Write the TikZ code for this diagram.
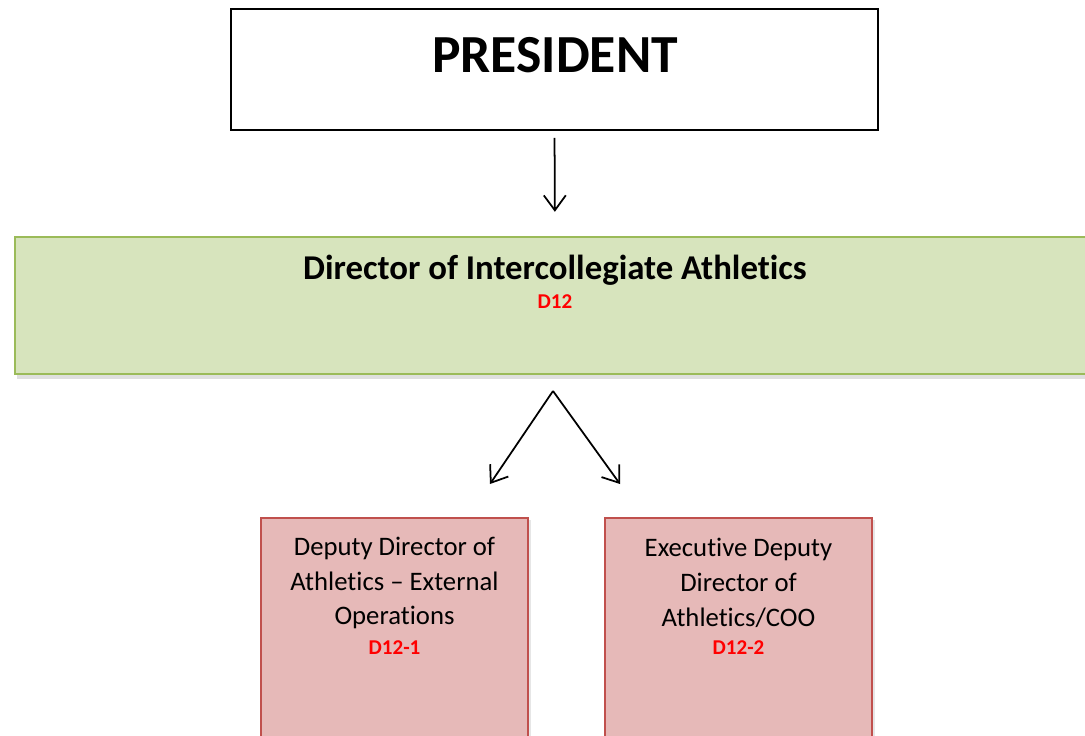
\documentclass[tikz,border=0pt]{standalone}
\usepackage{fontspec}
\setmainfont[Ligatures={NoCommon}]{Carlito}
\usetikzlibrary{arrows.meta,positioning,shadows}

\definecolor{dirfill}{HTML}{D7E4BD}
\definecolor{dirline}{HTML}{9BBB59}
\definecolor{depfill}{HTML}{E6B9B8}
\definecolor{depline}{HTML}{C0504D}

\begin{document}
\begin{tikzpicture}[x=0.02cm,y=-0.02cm,
    link/.style={line width=1pt,-{Straight Barb[length=8.5pt,width=12.5pt]}},
    presbox/.style={draw,line width=1.1pt,fill=white,minimum width=12.94cm,minimum height=2.42cm},
    dirbox/.style={draw=dirline,line width=1.5pt,fill=dirfill,minimum width=21.6cm,minimum height=2.74cm,
        drop shadow={shadow xshift=1pt,shadow yshift=-3pt,opacity=0.25}},
    depbox/.style={draw=depline,line width=1.1pt,fill=depfill,minimum width=5.34cm,minimum height=4.84cm,
        drop shadow={shadow xshift=2pt,shadow yshift=-1pt,opacity=0.2}},
    code/.style={text=red,font=\fontsize{12}{14}\selectfont\bfseries},
    deptext/.style={align=center,font=\fontsize{15.2}{19.8}\selectfont}]
            \path[use as bounding box] (0,0) rectangle (1085,736);
            \clip (0,0) rectangle (1085,736);
            \coordinate (p0) at (554.5,69.5);
            \coordinate (p1) at (555,305.5);
            \coordinate (p2) at (394.5,639);
            \coordinate (p3) at (738.5,639);

            \node[presbox] (pres) at (p0) {};
            \node[dirbox] (dir) at (p1) {};
            \node[depbox] (dep1) at (p2) {};
            \node[depbox] (dep2) at (p3) {};

            \node[font=\fontsize{30.5}{36}\selectfont\bfseries] (prestext) at (555,55) {PRESIDENT};
            \node[font=\fontsize{19.8}{24}\selectfont\bfseries] (dirtext) at (555,270) {Director of Intercollegiate Athletics};
            \node[code] (dircode) at (555,302) {D12};

            \node[deptext] (dep1text) at (394.5,583) {Deputy Director of\\Athletics -- External\\Operations};
            \node[code] (dep1code) at (394.5,648) {D12-1};
            \node[deptext] (dep2text) at (738.5,583) {Executive Deputy\\Director of\\Athletics/COO};
            \node[code] (dep2code) at (738.5,648) {D12-2};

            \coordinate (fork) at (553,391);
            \coordinate (tip1) at (490,484);
            \coordinate (tip2) at (620,484);

            \draw[link,shorten <=4pt,shorten >=13.6pt] (pres.south) -- (dir.north);
            \draw[link] (fork) -- (tip1);
            \draw[link] (fork) -- (tip2);
        \end{tikzpicture}
\end{document}
